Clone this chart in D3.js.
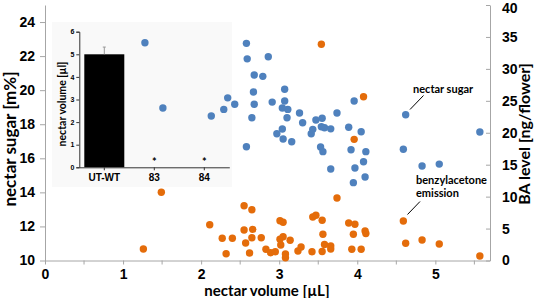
<!DOCTYPE html>
<html><head><meta charset="utf-8">
<script src="https://cdn.jsdelivr.net/npm/d3@7"></script>
<style>
html,body{margin:0;padding:0;background:#fff;}
svg{display:block;font-family:Lato,"Open Sans",sans-serif;}
</style></head>
<body>
<svg id="c" width="538" height="298"></svg>
<script>
// nectar volume [µL] per flower (shared x)
const volume = [1.28,1.51,2.13,2.29,2.34,2.43,2.58,2.59,2.58,2.65,2.67,2.68,2.68,2.79,2.86,2.91,2.97,3.04,3.04,3.05,3.07,3.07,3.10,3.11,3.16,3.26,3.30,3.41,3.43,3.47,3.53,3.55,3.54,3.58,3.56,3.66,3.66,3.74,3.89,3.92,3.96,3.97,3.95,4.05,4.08,4.11,4.10,4.59,4.62,4.83,5.05,5.57];
const sugar  = [22.78,18.95,18.48,18.87,19.55,19.17,22.75,21.84,16.68,18.38,19.89,20.89,19.17,20.81,21.96,19.30,17.44,17.72,18.95,17.13,20.05,19.36,18.38,18.87,16.97,18.66,18.09,17.44,17.70,18.25,16.66,18.35,17.85,17.79,16.39,17.73,15.37,18.66,17.82,16.50,19.36,15.43,14.57,17.56,15.80,16.39,14.90,16.53,18.56,15.55,15.66,17.54];
const baVolume = [1.26,1.49,2.11,2.27,2.32,2.40,2.55,2.65,2.55,2.66,2.57,2.65,2.62,2.77,2.83,2.89,2.95,3.01,3.05,3.01,3.05,3.02,3.08,3.08,3.14,3.24,3.28,3.42,3.43,3.47,3.55,3.55,3.56,3.58,3.66,3.66,3.74,3.89,3.97,3.93,3.95,4.05,4.10,4.11,4.59,4.62,4.83,5.05,5.57,3.54,4.08,3.96];
const baLevel  = [1.80,10.68,5.60,3.48,1.06,3.48,8.58,7.95,4.77,4.88,2.74,3.57,1.17,3.57,1.75,1.22,1.38,6.23,5.98,3.32,3.73,2.43,1.02,0.44,3.16,1.49,2.11,1.38,6.81,7.09,6.29,1.41,4.10,2.50,2.27,1.80,9.78,5.87,5.67,1.75,4.10,1.75,4.62,4.23,6.18,2.69,3.21,2.58,0.70,33.85,25.64,18.97];

const xTicks = [0,1,2,3,4,5];
const xMinor = [0.5,1.5,2.5,3.5,4.5,5.5];
const sugarTicks = [10,12,14,16,18,20,22,24];
const baTicks = [0,5,10,15,20,25,30,35,40];

// inset bar chart
const insetCats = ["UT-WT","83","84"];
const insetVals = [5.0,0,0];
const insetErr  = [0.32,0,0];
const insetSig  = ["","*","*"];
const insetTicks = [0,1,2,3,4,5,6];

const blue = "#4f81bd", orange = "#e46c0a", axisGray = "#a6a6a6";
const svg = d3.select("#c");

const x  = d3.scaleLinear([0,5.7],[45,490]);
const yL = d3.scaleLinear([10,25],[260.5,5]);
const yR = d3.scaleLinear([0,40],[260.5,5]);

// inset background
const xI = d3.scaleBand(insetCats,[79.3,229.3]).paddingInner(0.2).paddingOuter(0.1);
const yI = d3.scaleLinear([0,6],[167.3,31.7]);
svg.append("rect").attr("x",52).attr("y",22).attr("width",180).attr("height",165).attr("fill","#f9f9f9");

// inset bars
const gi = svg.append("g");
gi.selectAll("rect.bar").data(insetCats).join("rect").attr("class","bar")
  .attr("x",d=>xI(d)).attr("width",xI.bandwidth())
  .attr("y",(d,i)=>yI(insetVals[i])).attr("height",(d,i)=>yI(0)-yI(insetVals[i]))
  .attr("fill","#000");
gi.selectAll("line.err").data(insetCats.filter((d,i)=>insetErr[i]>0)).join("line")
  .attr("x1",d=>xI(d)+xI.bandwidth()/2).attr("x2",d=>xI(d)+xI.bandwidth()/2)
  .attr("y1",d=>yI(insetVals[insetCats.indexOf(d)]))
  .attr("y2",d=>{const i=insetCats.indexOf(d);return yI(insetVals[i]+insetErr[i]);})
  .attr("stroke","#999").attr("stroke-width",1);
gi.selectAll("line.cap").data(insetCats.filter((d,i)=>insetErr[i]>0)).join("line")
  .attr("x1",d=>xI(d)+xI.bandwidth()/2-1.5).attr("x2",d=>xI(d)+xI.bandwidth()/2+1.5)
  .attr("y1",d=>{const i=insetCats.indexOf(d);return yI(insetVals[i]+insetErr[i]);})
  .attr("y2",d=>{const i=insetCats.indexOf(d);return yI(insetVals[i]+insetErr[i]);})
  .attr("stroke","#999").attr("stroke-width",1);
gi.selectAll("text.sig").data(insetCats).join("text")
  .attr("x",d=>xI(d)+xI.bandwidth()/2).attr("y",yI(0)-1.5)
  .attr("text-anchor","middle").attr("font-size",11).attr("font-weight","bold")
  .text((d,i)=>insetSig[i]);
const giy = gi.append("g").attr("transform","translate(79.3,0)")
  .call(d3.axisLeft(yI).tickValues(insetTicks).tickSize(3).tickPadding(2).tickFormat(d3.format("d")));
giy.selectAll("text").attr("font-size",7).attr("font-weight","bold").attr("fill","#000");
giy.selectAll("line,path").attr("stroke","#333");
const gix = gi.append("g").attr("transform",`translate(0,${yI(0)})`)
  .call(d3.axisBottom(xI).tickSize(3).tickSizeOuter(0).tickPadding(4));
gix.selectAll("text").attr("font-size",10).attr("font-weight","bold").attr("fill","#000");
gix.selectAll("line,path").attr("stroke","#333");
gi.append("text").attr("transform","translate(66,104) rotate(-90)")
  .attr("text-anchor","middle").attr("font-size",10.5).attr("font-weight","bold").text("nectar volume [µl]");

// main axes
const gl = svg.append("g").attr("transform","translate(45,0)")
  .call(d3.axisLeft(yL).tickValues(sugarTicks).tickSize(5).tickPadding(5).tickSizeOuter(0));
gl.selectAll("text").attr("font-size",14).attr("font-weight","bold").attr("fill","#000");
gl.selectAll("line,path").attr("stroke",axisGray);

const gr = svg.append("g").attr("transform","translate(490,0)")
  .call(d3.axisRight(yR).tickValues(baTicks).tickSizeInner(-4).tickSizeOuter(0).tickPadding(12));
gr.selectAll("text").attr("font-size",14).attr("font-weight","bold").attr("fill","#000");
gr.selectAll("g.tick").filter(d=>d===40).select("text").attr("dy","0.55em");
gr.selectAll("line,path").attr("stroke",axisGray);

const gb = svg.append("g").attr("transform","translate(0,260.5)")
  .call(d3.axisBottom(x).tickValues(xTicks).tickSize(4).tickPadding(5).tickSizeOuter(0).tickFormat(d3.format("d")));
gb.selectAll("text").attr("font-size",14).attr("font-weight","bold").attr("fill","#000");
gb.selectAll("line,path").attr("stroke",axisGray);
svg.append("g").selectAll("line").data(xMinor).join("line")
  .attr("x1",d=>x(d)).attr("x2",d=>x(d)).attr("y1",260.5).attr("y2",264.5).attr("stroke",axisGray);

// titles
svg.append("text").attr("transform","translate(16,139) rotate(-90)").attr("text-anchor","middle")
  .attr("font-size",17).attr("font-weight","bold").text("nectar sugar [m%]");
svg.append("text").attr("transform","translate(530,134) rotate(-90)").attr("text-anchor","middle")
  .attr("font-size",16).attr("font-weight","bold").text("BA level [ng/flower]");
svg.append("text").attr("x",267).attr("y",296).attr("text-anchor","middle")
  .attr("font-size",15).attr("font-weight","bold").text("nectar volume [µL]");

// points
svg.append("g").selectAll("circle").data(volume).join("circle")
  .attr("cx",d=>x(d)).attr("cy",(d,i)=>yL(sugar[i])).attr("r",3.7).attr("fill",blue);
svg.append("g").selectAll("circle").data(baVolume).join("circle")
  .attr("cx",d=>x(d)).attr("cy",(d,i)=>yR(baLevel[i])).attr("r",3.7).attr("fill",orange);

// annotations
svg.append("text").attr("x",413).attr("y",93).attr("font-size",11).attr("font-weight","bold").text("nectar sugar");
svg.append("line").attr("x1",423.5).attr("y1",95.5).attr("x2",410).attr("y2",109.5).attr("stroke","#000").attr("stroke-width",1);
svg.append("text").attr("x",416).attr("y",184).attr("font-size",11).attr("font-weight","bold").text("benzylacetone");
svg.append("text").attr("x",416).attr("y",197).attr("font-size",11).attr("font-weight","bold").text("emission");
svg.append("line").attr("x1",420).attr("y1",201.5).attr("x2",407.5).attr("y2",214.5).attr("stroke","#000").attr("stroke-width",1);
</script>
</body></html>
